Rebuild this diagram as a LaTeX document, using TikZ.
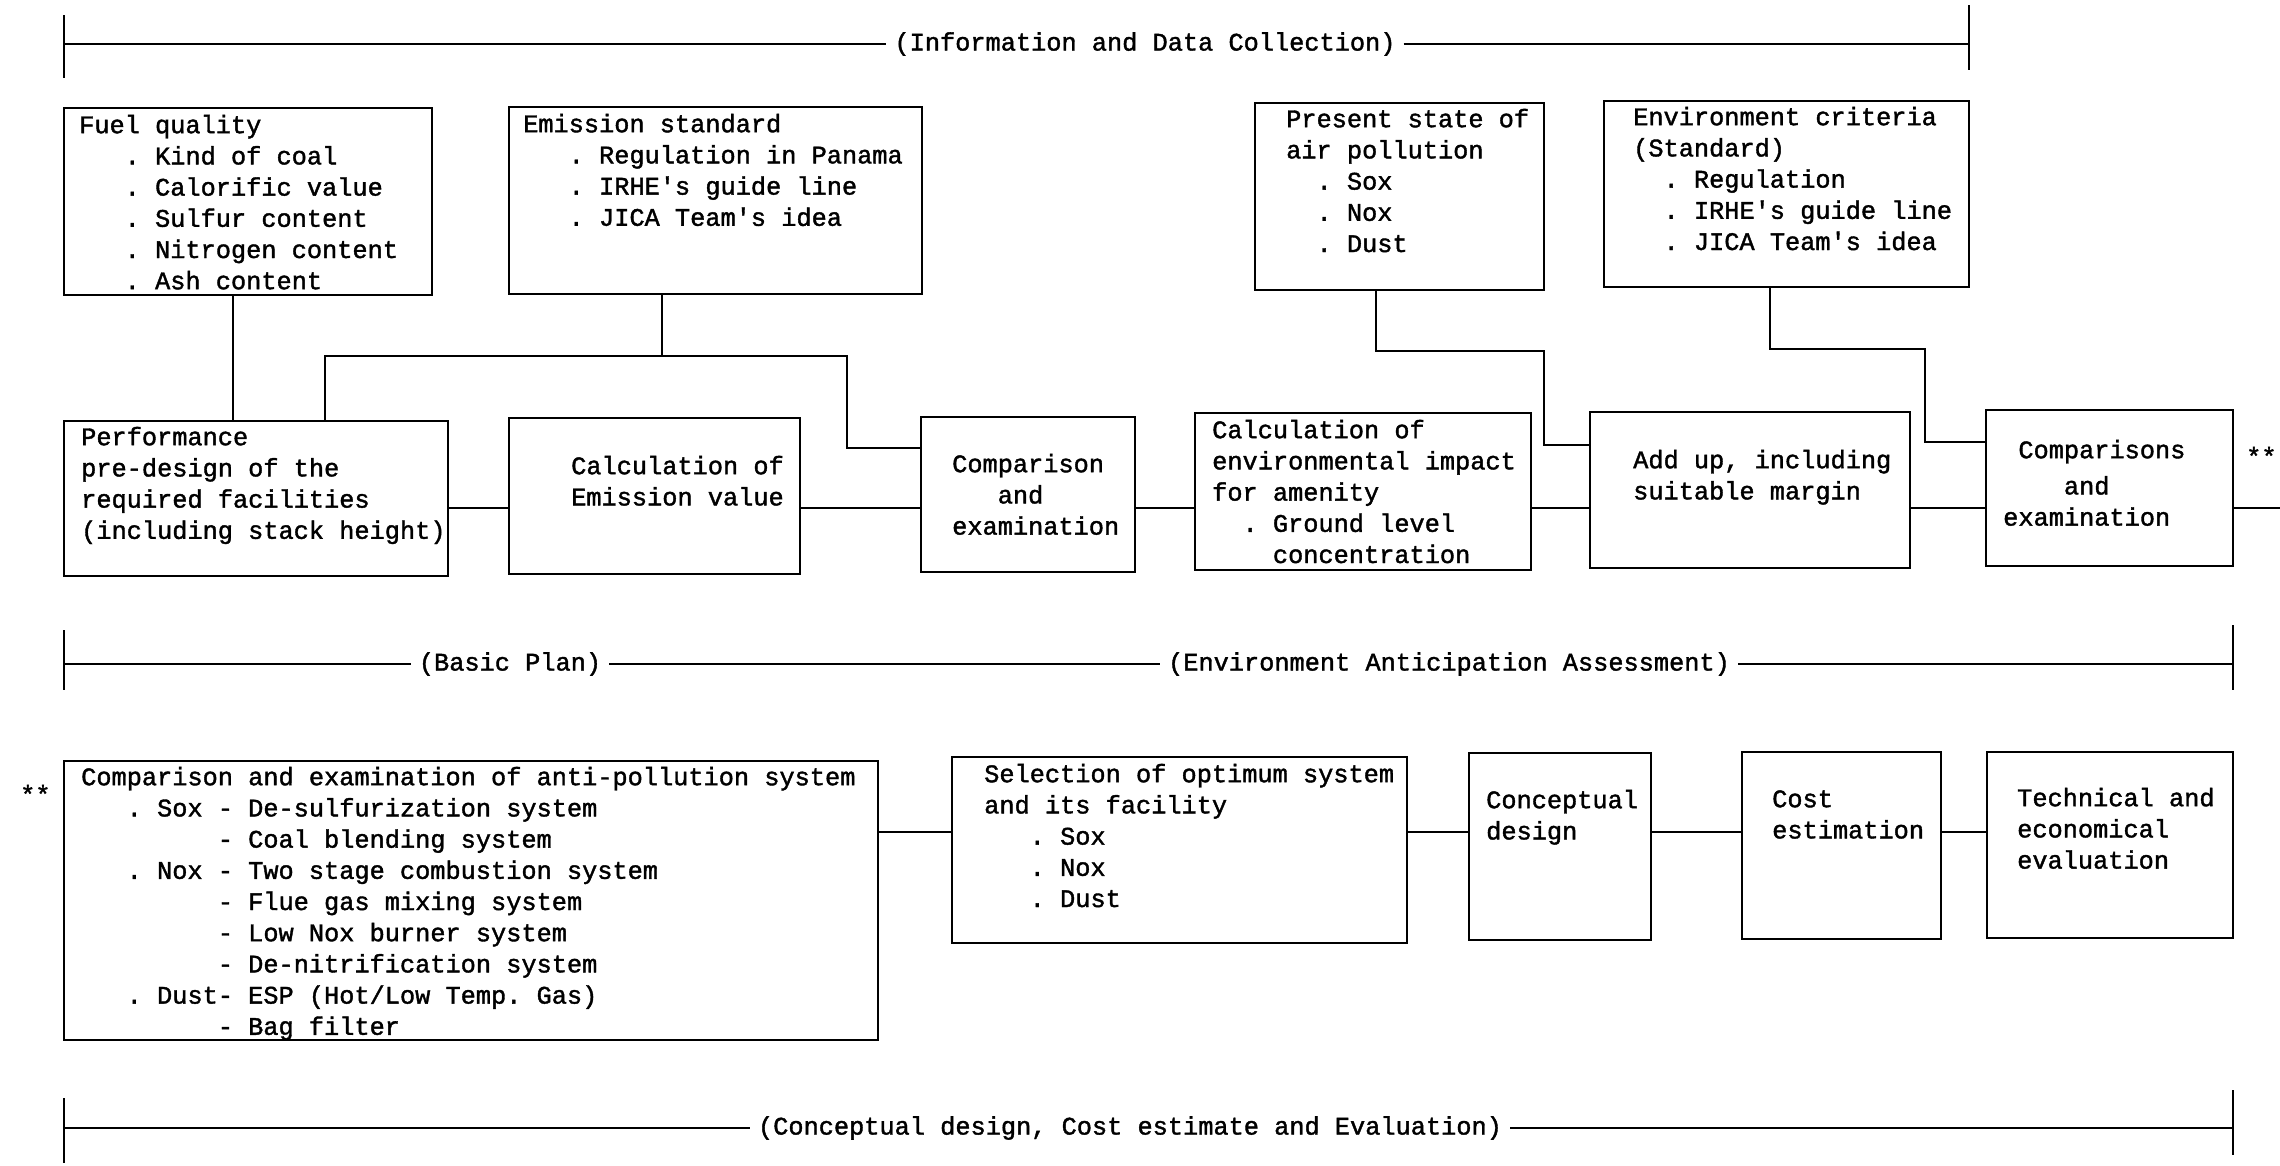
\documentclass[tikz,border=0pt]{standalone}
\usepackage{fontspec}
\newfontfamily\boxfont{Liberation Mono}[FakeBold=1.5]
\newcommand{\chind}[1]{\hspace*{#1\dimexpr0.6em\relax}}
\newcommand{\apos}{\textquotesingle}
\tikzset{
    box/.style={draw, line width=2pt, inner sep=0pt, outer sep=0pt, anchor=north west},
    txt/.style={font=\boxfont\fontsize{25.3}{31.2}\selectfont\frenchspacing, align=left,
        inner sep=0pt, anchor=north west, yshift=21.84pt},
    lbl/.style={font=\boxfont\fontsize{25.3}{31.2}\selectfont, inner xsep=8pt, inner ysep=0pt},
    link/.style={line width=2pt}
}

\begin{document}
\begin{tikzpicture}[x=1pt, y=-1pt]
    \useasboundingbox (0,0) rectangle (2280,1165);
    % brackets
    \coordinate (infoL) at (64,44);
    \coordinate (infoR) at (1969,44);
    \node[lbl] (info) at (1145,44) {(Information and Data Collection)};
    \draw[link] (infoL) -- (info.west);
    \draw[link] (info.east) -- (infoR);
    \draw[link] (64,15) -- (64,78);
    \draw[link] (1969,5) -- (1969,70);
    \coordinate (planL) at (64,664);
    \coordinate (planR) at (2233,664);
    \node[lbl] (plan) at (510,664) {(Basic Plan)};
    \node[lbl] (envas) at (1449,664) {(Environment Anticipation Assessment)};
    \draw[link] (planL) -- (plan.west);
    \draw[link] (plan.east) -- (envas.west);
    \draw[link] (envas.east) -- (planR);
    \draw[link] (64,630) -- (64,690);
    \draw[link] (2233,625) -- (2233,690);
    \coordinate (concL) at (64,1128);
    \coordinate (concR) at (2233,1128);
    \node[lbl] (conc) at (1130,1128) {(Conceptual design, Cost estimate and Evaluation)};
    \draw[link] (concL) -- (conc.west);
    \draw[link] (conc.east) -- (concR);
    \draw[link] (64,1098) -- (64,1163);
    \draw[link] (2233,1090) -- (2233,1155);
    % first row
    \node[box, minimum width=368pt, minimum height=187pt] (fuel) at (64,108) {};
    \node[box, minimum width=413pt, minimum height=187pt] (emis) at (509,107) {};
    \node[box, minimum width=289pt, minimum height=187pt] (pres) at (1255,103) {};
    \node[box, minimum width=365pt, minimum height=186pt] (envc) at (1604,101) {};
    \node[txt] (fuel-t) at (79,133) {\strut Fuel quality\\
        \chind{3}. Kind of coal\\ \chind{3}. Calorific value\\ \chind{3}. Sulfur content\\
        \chind{3}. Nitrogen content\\ \chind{3}. Ash content};
    \node[txt] (emis-t) at (523,132) {\strut Emission standard\\
        \chind{3}. Regulation in Panama\\ \chind{3}. IRHE\apos s guide line\\
        \chind{3}. JICA Team\apos s idea};
    \node[txt] (pres-t) at (1286,127) {\strut Present state of\\ air pollution\\
        \chind{2}. Sox\\ \chind{2}. Nox\\ \chind{2}. Dust};
    \node[txt] (envc-t) at (1633,125) {\strut Environment criteria\\ (Standard)\\
        \chind{2}. Regulation\\ \chind{2}. IRHE\apos s guide line\\ \chind{2}. JICA Team\apos s idea};
    % second row
    \node[box, minimum width=384pt, minimum height=155pt] (perf) at (64,421) {};
    \node[box, minimum width=291pt, minimum height=156pt] (calc) at (509,418) {};
    \node[box, minimum width=214pt, minimum height=155pt] (comp) at (921,417) {};
    \node[box, minimum width=336pt, minimum height=157pt] (impact) at (1195,413) {};
    \node[box, minimum width=320pt, minimum height=156pt] (addup) at (1590,412) {};
    \node[box, minimum width=247pt, minimum height=156pt] (comps) at (1986,410) {};
    \node[txt] (perf-t) at (81,445) {\strut Performance\\ pre-design of the\\
        required facilities\\ (including stack height)};
    \node[txt] (calc-t) at (571,474) {\strut Calculation of\\ Emission value};
    \node[txt] (comp-t) at (952,472) {\strut Comparison\\ \chind{3}and\\ examination};
    \node[txt] (impact-t) at (1212,438) {\strut Calculation of\\ environmental impact\\
        for amenity\\ \chind{2}. Ground level\\ \chind{4}concentration};
    \node[txt] (addup-t) at (1633,468) {\strut Add up, including\\ suitable margin};
    \node[txt] (comps-t) at (2003,458) {\strut\chind{1}Comparisons\\[5pt] \chind{4}and\\ examination};
    \node[txt] (starr) at (2246,465) {\strut **};
    % third row
    \node[box, minimum width=814pt, minimum height=279pt] (anti) at (64,761) {};
    \node[box, minimum width=455pt, minimum height=186pt] (sel) at (952,757) {};
    \node[box, minimum width=182pt, minimum height=187pt] (cdes) at (1469,753) {};
    \node[box, minimum width=199pt, minimum height=187pt] (cost) at (1742,752) {};
    \node[box, minimum width=246pt, minimum height=186pt] (tech) at (1987,752) {};
    \node[txt] (starl) at (20,803) {\strut **};
    \node[txt] (anti-t) at (81,785) {\strut Comparison and examination of anti-pollution system\\
        \chind{3}. Sox - De-sulfurization system\\
        \chind{9}- Coal blending system\\
        \chind{3}. Nox - Two stage combustion system\\
        \chind{9}- Flue gas mixing system\\
        \chind{9}- Low Nox burner system\\
        \chind{9}- De-nitrification system\\
        \chind{3}. Dust- ESP (Hot/Low Temp. Gas)\\
        \chind{9}- Bag filter};
    \node[txt] (sel-t) at (984,782) {\strut Selection of optimum system\\ and its facility\\
        \chind{3}. Sox\\ \chind{3}. Nox\\ \chind{3}. Dust};
    \node[txt] (cdes-t) at (1486,808) {\strut Conceptual\\ design};
    \node[txt] (cost-t) at (1772,807) {\strut Cost\\ estimation};
    \node[txt] (tech-t) at (2017,806) {\strut Technical and\\ economical\\ evaluation};
    % connectors
    \coordinate (r2) at (0,508);
    \coordinate (r3) at (0,832);
    \coordinate (fj) at (233,0);
    \coordinate (ej) at (662,356);
    \coordinate (ejl) at (325,356);
    \coordinate (ejr) at (847,356);
    \coordinate (ejd) at (847,448);
    \coordinate (pj) at (1376,351);
    \coordinate (pjr) at (1544,351);
    \coordinate (pjd) at (1544,445);
    \coordinate (cj) at (1770,349);
    \coordinate (cjr) at (1925,349);
    \coordinate (cjd) at (1925,442);
    \coordinate (rexit) at (2280,508);
    \draw[link] (fuel.south -| fj) -- (perf.north -| fj);
    \draw[link] (emis.south -| ej) -- (ej);
    \draw[link] (perf.north -| ejl) -- (ejl) -- (ejr) -- (ejd) -- (comp.west |- ejd);
    \draw[link] (pres.south -| pj) -- (pj) -- (pjr) -- (pjd) -- (addup.west |- pjd);
    \draw[link] (envc.south -| cj) -- (cj) -- (cjr) -- (cjd) -- (comps.west |- cjd);
    \draw[link] (perf.east |- r2) -- (calc.west |- r2);
    \draw[link] (calc.east |- r2) -- (comp.west |- r2);
    \draw[link] (comp.east |- r2) -- (impact.west |- r2);
    \draw[link] (impact.east |- r2) -- (addup.west |- r2);
    \draw[link] (addup.east |- r2) -- (comps.west |- r2);
    \draw[link] (comps.east |- r2) -- (rexit);
    \draw[link] (anti.east |- r3) -- (sel.west |- r3);
    \draw[link] (sel.east |- r3) -- (cdes.west |- r3);
    \draw[link] (cdes.east |- r3) -- (cost.west |- r3);
    \draw[link] (cost.east |- r3) -- (tech.west |- r3);
\end{tikzpicture}
\end{document}
